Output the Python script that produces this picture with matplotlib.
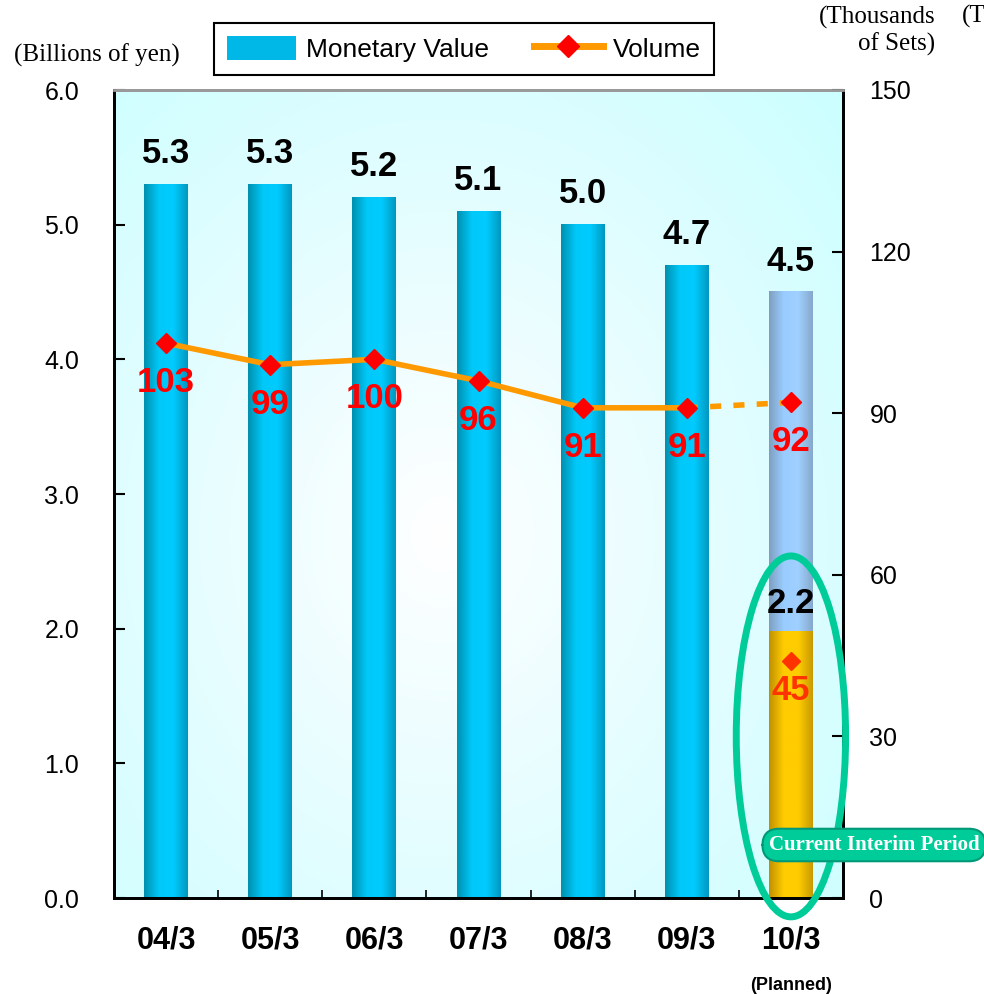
import numpy as np
import matplotlib.pyplot as plt
from matplotlib.colors import LinearSegmentedColormap
from matplotlib.patches import Ellipse, Patch
from matplotlib.lines import Line2D

# data
periods = ['04/3', '05/3', '06/3', '07/3', '08/3', '09/3', '10/3']
monetary = [5.3, 5.3, 5.2, 5.1, 5.0, 4.7, 4.5]
monetary_labels = ['5.3', '5.3', '5.2', '5.1', '5.0', '4.7', '4.5']
volume = [103, 99, 100, 96, 91, 91, 92]
volume_labels = ['103', '99', '100', '96', '91', '91', '92']
interim_value = 1.98
interim_label = '2.2'
interim_volume = 44
interim_volume_label = '45'

W, H = 984, 994
fig = plt.figure(figsize=(W / 100, H / 100), dpi=100)
ax = fig.add_axes([114 / W, 1 - 898 / H, (843 - 114) / W, (898 - 90) / H])
ax2 = ax.twinx()

sans = ['Liberation Sans', 'DejaVu Sans']
serif = ['Liberation Serif', 'DejaVu Serif']

# background: pale cyan with a whiter glow in the middle
gx, gy = np.meshgrid(np.linspace(0, 1, 300), np.linspace(0, 1, 300))
r = np.sqrt(((gx - 0.45) / 0.75) ** 2 + ((gy - 0.45) / 0.8) ** 2)
bg_cmap = LinearSegmentedColormap.from_list('bg', ['#FFFFFF', '#E4FDFF', '#CCFFFF'])
ax.imshow(np.clip(r, 0, 1), cmap=bg_cmap, extent=[-0.5, 6.5, 0, 6], origin='lower',
          aspect='auto', zorder=0, vmin=0, vmax=1)

cyan_cmap = LinearSegmentedColormap.from_list('cy', ['#0090B0', '#00C8F8', '#00CCFF', '#0098C0'])
blue_cmap = LinearSegmentedColormap.from_list('bl', ['#7F9FC0', '#99CCFF', '#A0D0FF', '#86A8CC'])
gold_cmap = LinearSegmentedColormap.from_list('go', ['#C09000', '#FFCC00', '#FFCC00', '#C89A00'])
grad = np.linspace(0, 1, 100).reshape(1, -1)
bw = 0.42


def grad_bar(x, y0, y1, cmap):
    ax.imshow(grad, cmap=cmap, extent=[x - bw / 2, x + bw / 2, y0, y1],
              aspect='auto', zorder=2)


xs = np.arange(len(periods))
for i, v in enumerate(monetary):
    if i < len(periods) - 1:
        grad_bar(xs[i], 0, v, cyan_cmap)
    else:
        grad_bar(xs[i], interim_value, v, blue_cmap)
        grad_bar(xs[i], 0, interim_value, gold_cmap)
    ax.text(xs[i], v + 0.23, monetary_labels[i], ha='center', va='center',
            fontsize=25, fontweight='bold', family=sans, zorder=5)
ax.text(xs[-1], interim_value + 0.21, interim_label, ha='center', va='center',
        fontsize=25, fontweight='bold', family=sans, zorder=5)

ax.set_xlim(-0.5, 6.5)
ax.set_ylim(0, 6)
ax.set_yticks(np.arange(0, 6.01, 1.0))
ax.set_yticklabels([f'{t:.1f}' for t in np.arange(0, 6.01, 1.0)], family=sans, fontsize=18)
ax.set_xticks(xs)
ax.set_xticklabels(periods, family=sans, fontsize=22, fontweight='bold')
ax.set_xticks(np.arange(0.5, 6, 1), minor=True)
ax.tick_params(axis='x', which='major', length=0, pad=20)
ax.tick_params(axis='x', which='minor', direction='in', length=6, width=1.2)
ax.tick_params(axis='y', direction='in', length=8, width=1.5, pad=25)

# volume line, dashed for the planned year
ax2.plot(xs[:-1], volume[:-1], color='#FF9900', lw=4, zorder=3)
ax2.plot(xs[-2:], volume[-2:], color='#FF9900', lw=4, ls=(0, (2, 2.2)), zorder=3)
ax2.plot(xs, volume, ls='none', marker='D', ms=10, color='#FF0000', zorder=4)
for i, v in enumerate(volume):
    ax2.text(xs[i], v - 7.3, volume_labels[i], ha='center', va='center', color='#FF0000',
             fontsize=25, fontweight='bold', family=sans, zorder=5)
ax2.plot([xs[-1]], [interim_volume], ls='none', marker='D', ms=9, color='#FF3300', zorder=4)
ax2.text(xs[-1], interim_volume - 5.4, interim_volume_label, ha='center', va='center',
         color='#FF3300', fontsize=25, fontweight='bold', family=sans, zorder=5)

ax2.set_ylim(0, 150)
ax2.set_yticks(np.arange(0, 151, 30))
ax2.set_yticklabels([str(t) for t in np.arange(0, 151, 30)], family=sans, fontsize=18)
ax2.tick_params(axis='y', direction='in', length=8, width=1.5, pad=19)

for a in (ax, ax2):
    a.spines['top'].set_color('#999999')
    a.spines['top'].set_linewidth(2)
    for s in ('left', 'right', 'bottom'):
        a.spines[s].set_linewidth(2)

# highlight of the current interim period
ell = Ellipse((xs[-1], 1.2), 1.05, 2.68, transform=ax.transData, fill=False,
              ec='#00CC99', lw=5, clip_on=False, zorder=6)
ax2.add_patch(ell)
fig.text(874 / W, 1 - 845 / H, 'Current Interim Period', ha='center', va='center',
         color='white', fontsize=15, fontweight='bold', family=serif, zorder=10,
         bbox=dict(boxstyle='round,pad=0.3,rounding_size=0.8', fc='#00CC99', ec='#009977', lw=1.5))

fig.text(97 / W, 1 - 55 / H, '(Billions of yen)', ha='center', va='center', fontsize=18, family=serif)
fig.text(935 / W, 1 - 31 / H, '(Thousands\nof Sets)', ha='right', va='center', fontsize=18,
         family=serif, linespacing=1.15, multialignment='right')
fig.text(962 / W, 1 - 16 / H, '(Thousands', ha='left', va='center', fontsize=18, family=serif)
fig.text(xs[-1], -0.108, '(Planned)', transform=ax.get_xaxis_transform(), ha='center', va='center',
         fontsize=13, fontweight='bold', family=sans)

handles = [Patch(fc='#00B8E8', ec='none'),
           Line2D([], [], color='#FF9900', lw=5, marker='D', ms=11, mfc='#FF0000', mec='#FF0000')]
leg = fig.legend(handles, ['Monetary Value', 'Volume'], loc='center', bbox_to_anchor=(464 / W, 1 - 49 / H),
                 ncol=2, fancybox=False, edgecolor='black', framealpha=1,
                 handlelength=2.6, handleheight=1.0, handletextpad=0.4, columnspacing=1.7,
                 borderpad=0.5, prop={'family': sans, 'size': 19})
leg.get_frame().set_linewidth(1.5)

plt.savefig('out.png', dpi=100)
